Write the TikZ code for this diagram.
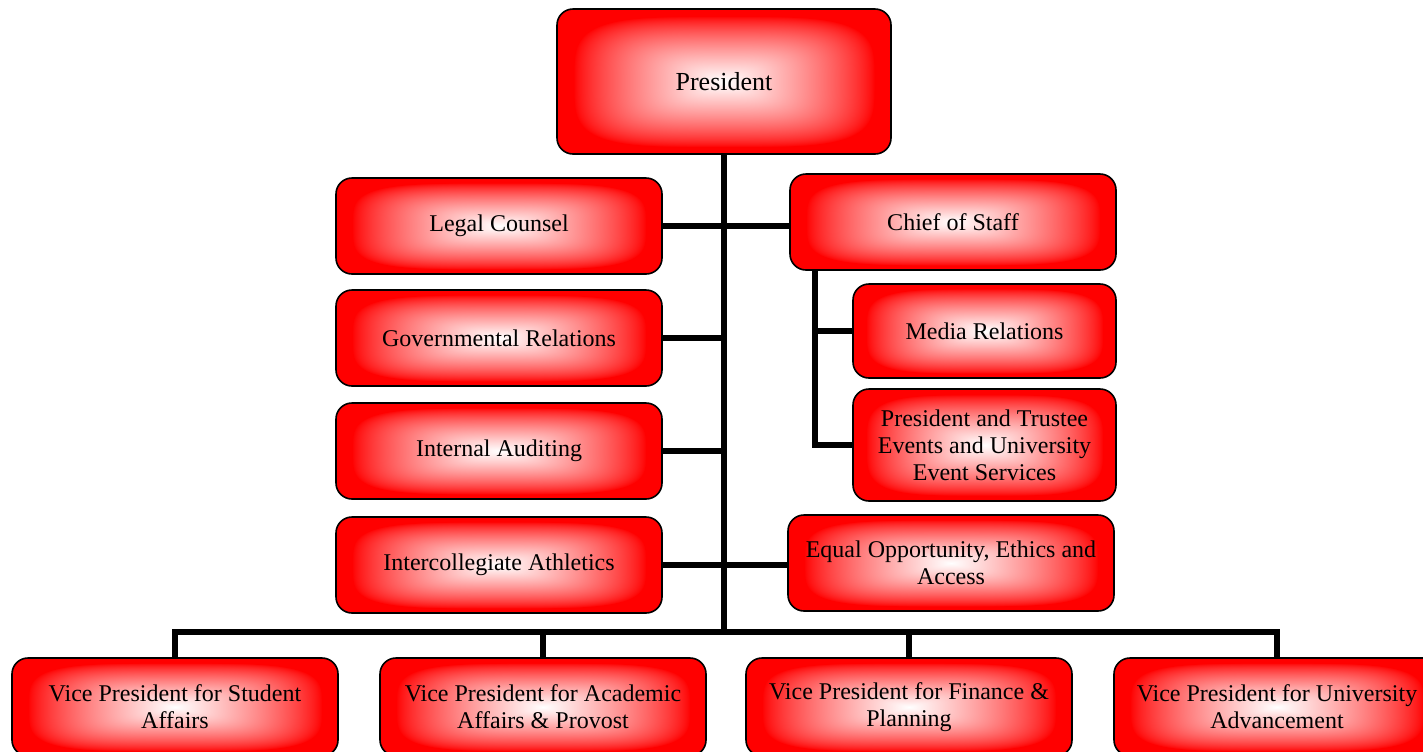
\documentclass[tikz,border=0pt]{standalone}
\usepackage{fontspec}
\setmainfont{Liberation Serif}
\pgfdeclarefunctionalshading{rectglow}{\pgfpointorigin}{\pgfpoint{100bp}{100bp}}{}{
  50 sub 25 div dup mul dup mul exch 50 sub 25 div dup mul dup mul add 0.25 exp
  0.9 div
  dup 1 gt {pop 1} if
  1 exch sub
  0.75 exp
  1 exch dup
}
\tikzset{
  box/.style={draw=black, line width=0.8pt, rounded corners=8pt, shading=rectglow,
    align=center, inner sep=2pt, font=\fontsize{12pt}{13.6pt}\selectfont, text=black},
  conn/.style={line width=3pt, line join=miter, draw=black},
}
\begin{document}
\begin{tikzpicture}[x=0.5pt, y=-0.5pt]
\useasboundingbox (0,0) rectangle (1423,751);
\clip (0,0) rectangle (1423,751);
% nodes
\node[box, minimum width=167pt, minimum height=72.5pt, font=\fontsize{13pt}{15pt}\selectfont] (pres) at (724,81.5) {President};
\node[box, minimum width=163pt, minimum height=48pt] (lc)  at (499,226) {Legal Counsel};
\node[box, minimum width=163pt, minimum height=48pt] (cos) at (953,222) {Chief of Staff};
\node[box, minimum width=163pt, minimum height=48pt] (gov) at (499,338) {Governmental Relations};
\node[box, minimum width=163pt, minimum height=48pt] (ia)  at (499,451) {Internal Auditing};
\node[box, minimum width=163pt, minimum height=48pt] (ica) at (499,565) {Intercollegiate Athletics};
\node[box, minimum width=131.5pt, minimum height=47pt] (media) at (984.5,331) {Media Relations};
\node[box, minimum width=131.5pt, minimum height=56pt] (pte) at (984.5,445) {President and Trustee\\Events and University\\Event Services};
\node[box, minimum width=163pt, minimum height=48pt] (eoe) at (951,563) {Equal Opportunity, Ethics and\\Access};
\node[box, minimum width=163pt, minimum height=49pt] (vp1) at (175,707) {Vice President for Student\\Affairs};
\node[box, minimum width=163pt, minimum height=49pt] (vp2) at (543,707) {Vice President for Academic\\Affairs \& Provost};
\node[box, minimum width=163pt, minimum height=49pt] (vp3) at (909,707) {Vice President for Finance \&\\Planning};
\node[box, minimum width=163pt, minimum height=49pt] (vp4) at (1277,707) {Vice President for University\\Advancement};
% connectors
\coordinate (bar) at (724,632);
\coordinate (cst) at (815,270);
\draw[conn] (pres.south) -- (bar);
\draw[conn] (lc.east) -- (lc.east -| cos.west);
\draw[conn] (gov.east) -- (gov.east -| bar);
\draw[conn] (ia.east) -- (ia.east -| bar);
\draw[conn] (ica.east) -- (ica.east -| eoe.west);
\draw[conn] (cst) |- (pte.west);
\draw[conn] (cst |- media.west) -- (media.west);
\draw[conn] (vp1.north) |- (bar) -| (vp4.north);
\draw[conn] (vp2.north) -- (vp2.north |- bar);
\draw[conn] (vp3.north) -- (vp3.north |- bar);
\end{tikzpicture}
\end{document}
